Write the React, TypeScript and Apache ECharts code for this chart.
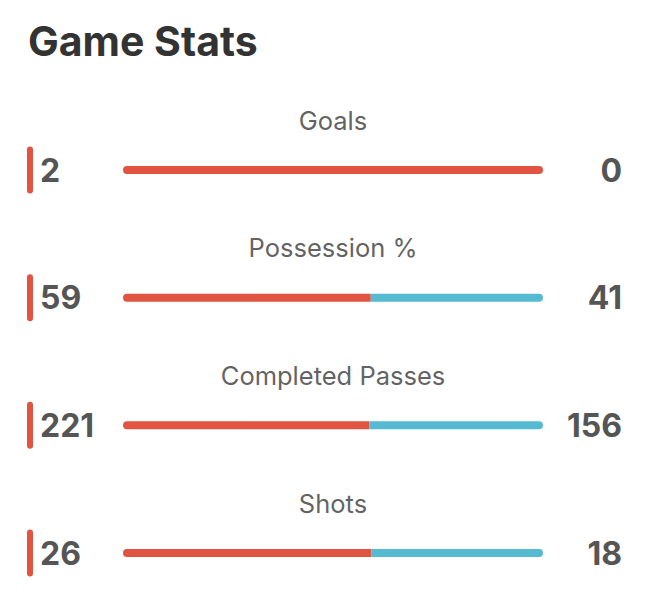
import React, { useEffect, useRef } from "react";
import * as echarts from "echarts";

const categories = ["Goals", "Possession %", "Completed Passes", "Shots"];
const leftValues = [2, 59, 221, 26];
const rightValues = [0, 41, 156, 18];

const RED = "#E25442";
const BLUE = "#56BAD3";
const FONT = "Inter, 'Noto Sans', sans-serif";

export default function App() {
  const ref = useRef<HTMLDivElement>(null);
  useEffect(() => {
    if (!ref.current) return;
    const chart = echarts.init(ref.current, undefined, { renderer: "svg" });
    const leftShare = leftValues.map((v, i) => {
      const t = v + rightValues[i];
      return t === 0 ? 50 : (v / t) * 100;
    });
    const rightShare = rightValues.map((v, i) => {
      const t = leftValues[i] + v;
      return t === 0 ? 50 : (v / t) * 100;
    });
    chart.setOption({
      animation: false,
      title: {
        text: "Game Stats",
        left: 23,
        top: 15,
        textStyle: { fontFamily: FONT, fontSize: 41, fontWeight: "bold", color: "#333333" },
      },
      grid: { left: 123, right: 119, top: 170, bottom: 41 },
      xAxis: { type: "value", min: 0, max: 100, show: false },
      yAxis: [
        {
          type: "category",
          data: categories,
          inverse: true,
          boundaryGap: false,
          position: "left",
          axisLine: { show: false },
          axisTick: { show: false },
          splitLine: { show: false },
          axisLabel: {
            align: "left",
            margin: 96,
            formatter: (_v: string, i: number) => `{acc| }{val|${leftValues[i]}}`,
            rich: {
              acc: { width: 6, height: 47, backgroundColor: RED, borderRadius: 3 },
              val: {
                fontFamily: FONT,
                fontSize: 32,
                fontWeight: "bold",
                color: "#555555",
                padding: [0, 0, 0, 7],
              },
            },
          },
        },
        {
          type: "category",
          data: categories,
          inverse: true,
          boundaryGap: false,
          position: "right",
          axisLine: { show: false },
          axisTick: { show: false },
          splitLine: { show: false },
          axisLabel: {
            align: "right",
            margin: 79,
            fontFamily: FONT,
            fontSize: 32,
            fontWeight: "bold",
            color: "#555555",
            formatter: (_v: string, i: number) => String(rightValues[i]),
          },
        },
      ],
      series: [
        {
          type: "bar",
          stack: "s",
          barWidth: 8,
          yAxisIndex: 0,
          data: leftShare.map((v, i) => ({
            value: v,
            itemStyle: { borderRadius: rightValues[i] === 0 ? [4, 4, 4, 4] : [4, 0, 0, 4] },
          })),
          itemStyle: { color: RED },
        },
        {
          type: "bar",
          stack: "s",
          barWidth: 8,
          yAxisIndex: 0,
          data: rightShare.map((v, i) => ({
            value: v,
            itemStyle: { borderRadius: leftValues[i] === 0 ? [4, 4, 4, 4] : [0, 4, 4, 0] },
          })),
          itemStyle: { color: BLUE },
        },
        {
          type: "scatter",
          yAxisIndex: 0,
          symbolSize: 1,
          itemStyle: { color: "rgba(0,0,0,0)" },
          data: categories.map((_c, i) => [50, i]),
          label: {
            show: true,
            position: "inside",
            offset: [0, -50],
            fontFamily: FONT,
            fontSize: 25.5,
            color: "#383838",
            formatter: (p: any) => categories[p.dataIndex],
          },
          silent: true,
        },
      ],
    });
    return () => chart.dispose();
  }, []);
  return (
    <div
      ref={ref}
      style={{ position: "absolute", left: 0, top: 0, width: 662, height: 594, background: "#ffffff" }}
    />
  );
}
